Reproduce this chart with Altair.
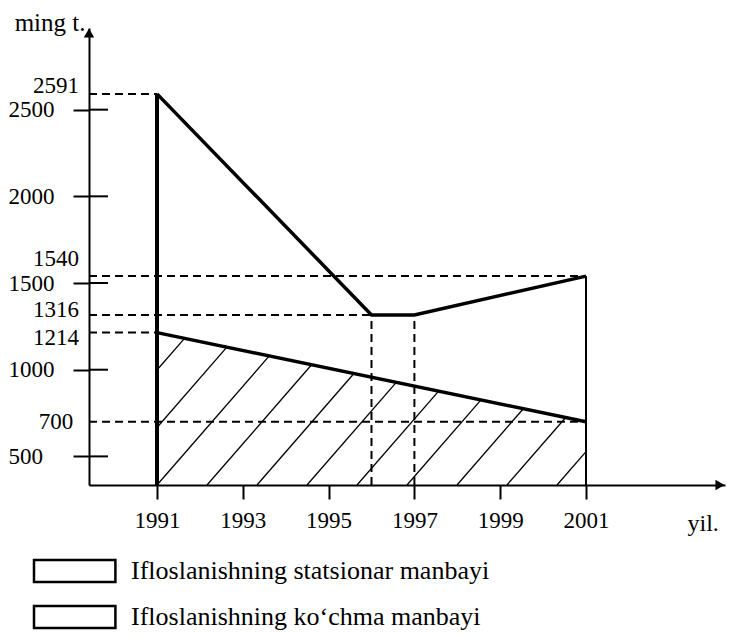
import altair as alt
import numpy as np
import pandas as pd

# ---------------- data ----------------
stat_years = [1991, 1996, 1997, 2001]
stat_values = [2591, 1316, 1316, 1540]
mob_years = [1991, 2001]
mob_values = [1214, 700]
y_major = [500, 1000, 1500, 2000, 2500]
y_marked = [2591, 1540, 1316, 1214, 700]
x_ticks = [1991, 1993, 1995, 1997, 1999, 2001]
legend_labels = ["Ifloslanishning statsionar manbayi",
                 "Ifloslanishning ko\u2018chma manbayi"]
y_title = "ming t."
x_title = "yil."

# ---------------- layout / style ----------------
W, H = 636, 457
X_MIN, X_MAX = 1989.415, 2004.24
Y_MIN, Y_MAX = 335, 2971
FONT = "Liberation Serif"
INK = "#000000"
PX_PER_YEAR = W / (X_MAX - X_MIN)
PX_PER_UNIT = H / (Y_MAX - Y_MIN)
# vertical nudges (px) for the marked-value labels, as placed in the figure
LABEL_NUDGE = {2591: -8, 1540: -17, 1316: -5, 1214: 5, 700: 0}

xs = alt.Scale(domain=[X_MIN, X_MAX], nice=False, zero=False)
ys = alt.Scale(domain=[Y_MIN, Y_MAX], nice=False, zero=False)

x_axis = alt.Axis(values=x_ticks, format="d", title=x_title, grid=False,
                  domainColor=INK, domainWidth=2, tickColor=INK, tickWidth=2,
                  tickSize=14, labelFont=FONT, labelFontSize=23, labelColor=INK,
                  labelPadding=10, labelFlush=False, labelOverlap=False,
                  titleFont=FONT, titleFontSize=24, titleFontWeight="normal",
                  titleColor=INK, titleX=598, titleY=45, titleAlign="left",
                  titleBaseline="alphabetic", titleAngle=0)
y_axis = alt.Axis(values=y_major, format="d", title=y_title, grid=False,
                  domainColor=INK, domainWidth=2, tickColor=INK, tickWidth=2,
                  tickSize=16, labelFont=FONT, labelFontSize=23, labelColor=INK,
                  labelAlign="left", labelPadding=65, labelFlush=False,
                  labelOverlap=False, titleFont=FONT, titleFontSize=25,
                  titleFontWeight="normal", titleColor=INK, titleAngle=0,
                  titleX=-4, titleY=2, titleAlign="right",
                  titleBaseline="alphabetic")


def X(f="x"):
    return alt.X(f"{f}:Q", scale=xs, axis=x_axis)


def Y(f="y"):
    return alt.Y(f"{f}:Q", scale=ys, axis=y_axis)


# ---------------- hatching under the "ko'chma" series ----------------
HATCH_STEP = 50 / PX_PER_YEAR                     # years between hatch lines
HATCH_SLOPE = 1.15 * PX_PER_YEAR / PX_PER_UNIT     # value units per year
m = (mob_values[1] - mob_values[0]) / (mob_years[1] - mob_years[0])
hx, hy, hx2, hy2 = [], [], [], []
for k in range(-6, 30):
    x0 = mob_years[0] + k * HATCH_STEP
    if x0 > mob_years[-1]:
        break
    if x0 >= mob_years[0]:
        sx, sy = x0, Y_MIN
    else:
        sx = mob_years[0]
        sy = Y_MIN + HATCH_SLOPE * (mob_years[0] - x0)
        if sy >= mob_values[0]:
            continue
    ex = (mob_values[0] - m * mob_years[0] - Y_MIN + HATCH_SLOPE * x0) / (HATCH_SLOPE - m)
    ex = min(ex, mob_years[-1])
    ey = Y_MIN + HATCH_SLOPE * (ex - x0)
    hx.append(sx); hy.append(sy); hx2.append(ex); hy2.append(ey)
hatch_df = pd.DataFrame({"x": hx, "y": hy, "x2": hx2, "y2": hy2})

hatch = alt.Chart(hatch_df).mark_rule(color=INK, strokeWidth=1.3).encode(
    x=X(), y=Y(), x2="x2:Q", y2="y2:Q")

# ---------------- dashed guide lines ----------------
guide_pts = [(stat_years[0], stat_values[0]), (stat_years[-1], stat_values[-1]),
             (stat_years[1], stat_values[1]), (mob_years[0], mob_values[0]),
             (mob_years[-1], mob_values[-1])]
dash_h_df = pd.DataFrame({"x": [X_MIN] * len(guide_pts),
                          "x2": [p[0] for p in guide_pts],
                          "y": [p[1] for p in guide_pts]})
dash_h = alt.Chart(dash_h_df).mark_rule(color=INK, strokeWidth=2, strokeDash=[8, 5]).encode(
    x=X(), x2="x2:Q", y=Y())

dash_v_df = pd.DataFrame({"x": stat_years[1:3], "y": [Y_MIN, Y_MIN],
                          "y2": stat_values[1:3]})
dash_v = alt.Chart(dash_v_df).mark_rule(color=INK, strokeWidth=2, strokeDash=[8, 5]).encode(
    x=X(), y=Y(), y2="y2:Q")

# inner half of the crossing y ticks
inner_df = pd.DataFrame({"x": [X_MIN] * len(y_major),
                         "x2": [X_MIN + 19 / PX_PER_YEAR] * len(y_major),
                         "y": y_major})
inner = alt.Chart(inner_df).mark_rule(color=INK, strokeWidth=2).encode(
    x=X(), x2="x2:Q", y=Y())

# ---------------- series ----------------
mob_df = pd.DataFrame({"x": mob_years, "y": mob_values})
mob_line = alt.Chart(mob_df).mark_line(color=INK, strokeWidth=3.5).encode(x=X(), y=Y())

stat_df = pd.DataFrame({"x": stat_years, "y": stat_values})
stat_line = alt.Chart(stat_df).mark_line(color=INK, strokeWidth=3.5).encode(x=X(), y=Y())

edge_left_df = pd.DataFrame({"x": [stat_years[0]], "y": [Y_MIN], "y2": [stat_values[0]]})
edge_right_df = pd.DataFrame({"x": [stat_years[-1]], "y": [Y_MIN], "y2": [stat_values[-1]]})
edge_left = alt.Chart(edge_left_df).mark_rule(color=INK, strokeWidth=4).encode(
    x=X(), y=Y(), y2="y2:Q")
edge_right = alt.Chart(edge_right_df).mark_rule(color=INK, strokeWidth=2).encode(
    x=X(), y=Y(), y2="y2:Q")


# labels of marked values
def marked_text(value, dy):
    df = pd.DataFrame({"x": [X_MIN], "y": [value], "t": [str(value)]})
    return alt.Chart(df).mark_text(align="center", baseline="middle", dx=-33, dy=dy,
                                   font=FONT, fontSize=23, color=INK).encode(
        x=X(), y=Y(), text="t:N")


mk_layers = [marked_text(v, LABEL_NUDGE.get(v, 0)) for v in y_marked]

# arrow heads
up_df = pd.DataFrame({"x": [X_MIN], "y": [Y_MAX]})
arrow_up = alt.Chart(up_df).mark_point(shape="triangle-up", filled=True, size=110,
                                       color=INK, opacity=1, yOffset=5).encode(x=X(), y=Y())
rt_df = pd.DataFrame({"x": [X_MAX], "y": [Y_MIN]})
arrow_rt = alt.Chart(rt_df).mark_point(shape="triangle-right", filled=True, size=110,
                                       color=INK, opacity=1, xOffset=-5).encode(x=X(), y=Y())

# legend
legend_df = pd.DataFrame({"src": legend_labels})
legend_layer = alt.Chart(legend_df).mark_point(filled=True, size=0, stroke=INK,
                                               strokeWidth=2.5).encode(
    fill=alt.Fill("src:N",
                  scale=alt.Scale(domain=legend_labels, range=["#ffffff", "#ffffff"]),
                  legend=alt.Legend(title=None, orient="none", legendX=-57, legendY=530,
                                    direction="vertical", symbolType="M-1,-1H6.4V1H-1Z",
                                    symbolSize=484, symbolStrokeColor=INK,
                                    symbolStrokeWidth=2.5, symbolOpacity=1,
                                    labelFont=FONT, labelFontSize=26, labelColor=INK,
                                    labelLimit=1000, labelOffset=73, rowPadding=14,
                                    padding=0)))

chart = alt.layer(hatch, dash_h, dash_v, inner, mob_line, stat_line, edge_left,
                  edge_right, *mk_layers, arrow_up, arrow_rt,
                  legend_layer).properties(
    width=W, height=H,
    autosize=alt.AutoSizeParams(type="none"),
    padding={"left": 81, "top": 20, "right": 5, "bottom": 145},
    background="#ffffff",
).configure_view(stroke=None)

chart.save("out.html", embed_options={"renderer": "svg", "actions": False})
